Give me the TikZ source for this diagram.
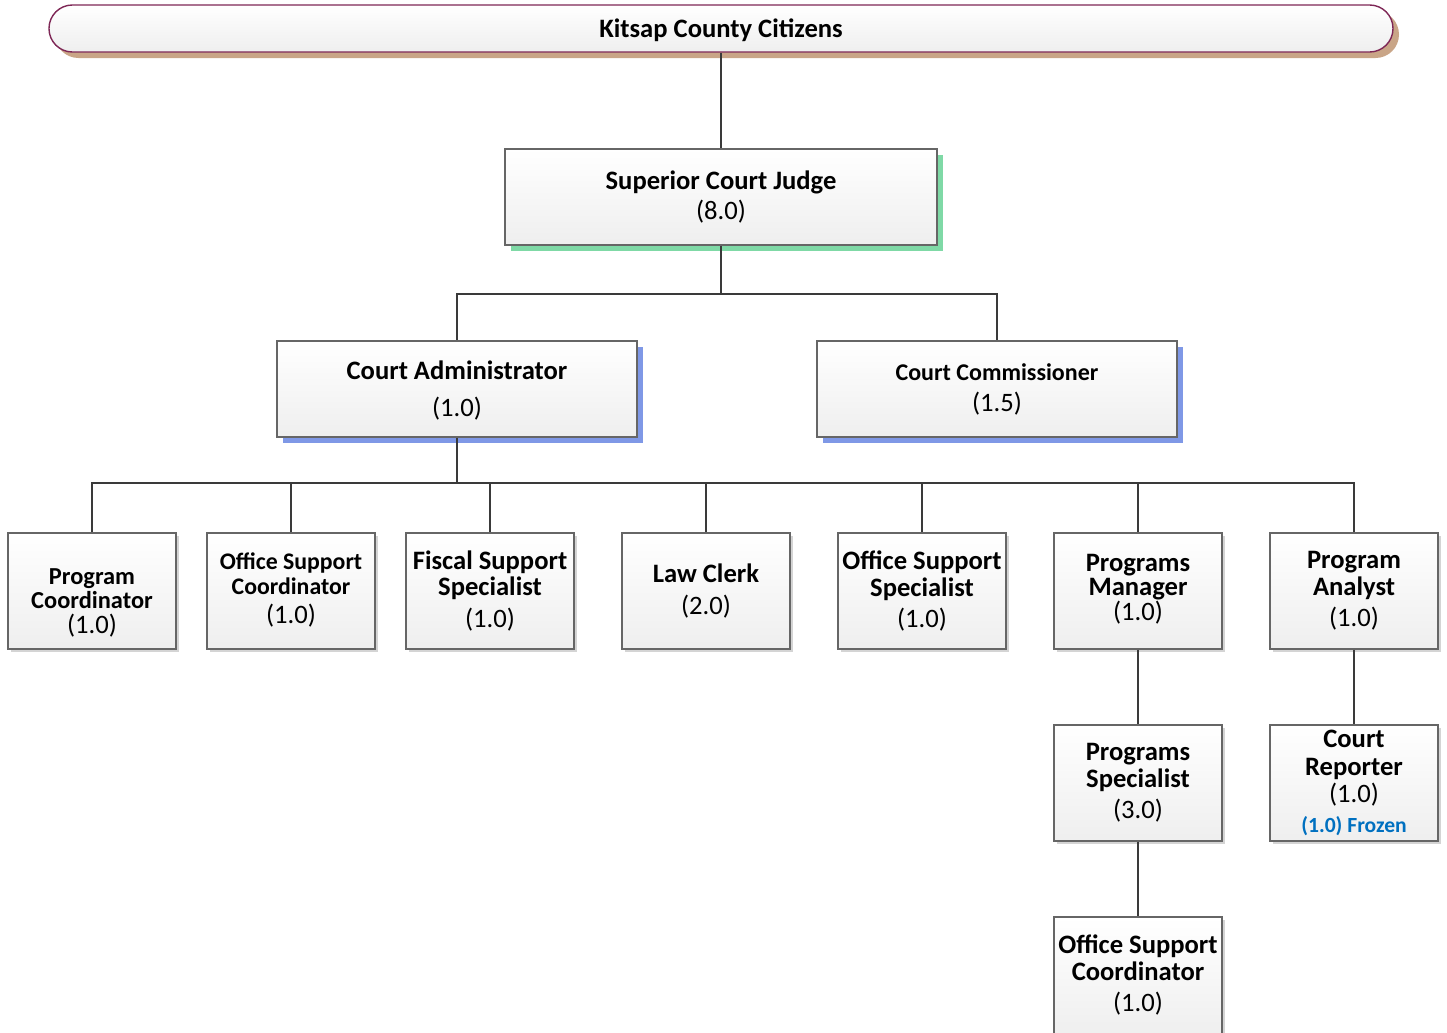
\documentclass[tikz,border=0pt]{standalone}
\usepackage{fontspec}
\setmainfont{Carlito}
\usetikzlibrary{shadows}
\definecolor{lineC}{HTML}{3A3A3A}
\definecolor{boxB}{HTML}{666666}
\definecolor{topB}{HTML}{7E2756}
\definecolor{shTan}{HTML}{C9A587}
\definecolor{shGreen}{HTML}{7FD9A6}
\definecolor{shBlue}{HTML}{7F98E6}
\definecolor{shGray}{HTML}{D4D4D4}
\definecolor{frozen}{HTML}{0070C0}
\newcommand\fsA{\fontsize{13.3}{13.3}\selectfont}
\newcommand\fsB{\fontsize{12.2}{12.2}\selectfont}
\newcommand\fsC{\fontsize{11.9}{12.2}\selectfont}
\newcommand\fsD{\fontsize{13.3}{10.7}\selectfont}
\tikzset{
  x=0.5pt, y=-0.5pt,
  base/.style={draw=boxB, line width=0.75pt, top color=white, bottom color=gray!13, inner sep=0pt},
  bigbox/.style={base, minimum width=216pt, minimum height=48pt},
  midbox/.style={base, minimum width=180pt, minimum height=48pt},
  smallbox/.style={base, minimum width=84pt, minimum height=58pt,
     drop shadow={shadow xshift=1.6pt, shadow yshift=-1.6pt, fill=shGray, opacity=1}},
  txt/.style={align=center, inner sep=0pt, font=\fsA},
  conn/.style={draw=lineC, line width=1.05pt},
}
\begin{document}
\begin{tikzpicture}
\useasboundingbox (0,0) rectangle (1447,1033);
% top
\node[draw=topB, line width=0.7pt, top color=white, bottom color=gray!13, rounded corners=11.7pt,
  minimum width=672pt, minimum height=23.5pt,
  drop shadow={shadow xshift=3pt, shadow yshift=-3pt, fill=shTan, opacity=1}] (top) at (721,28.5) {};
\node[txt] (ttop) at (721,30) {\textbf{Kitsap County Citizens}};
% judge
\node[bigbox, drop shadow={shadow xshift=3pt, shadow yshift=-3pt, fill=shGreen, opacity=1}] (judge) at (721,197) {};
\node[txt] (tjudge) at (721,197) {\textbf{Superior Court Judge}\\[2pt](8.0)};
% second level
\node[midbox, drop shadow={shadow xshift=3pt, shadow yshift=-3pt, fill=shBlue, opacity=1}] (ca) at (457,389) {};
\node[txt] (tca) at (457,390.5) {\textbf{Court Administrator}\\[5.5pt](1.0)};
\node[midbox, drop shadow={shadow xshift=3pt, shadow yshift=-3pt, fill=shBlue, opacity=1}] (cc) at (997,389) {};
\node[txt] (tcc) at (997,389.5) {\fontsize{12}{13.3}\selectfont\textbf{Court Commissioner}\\[2.5pt]\fsA(1.5)};
% third level
\node[smallbox] (pc) at (92,591) {};
\node[txt, font=\fsB] (tpc) at (92,603) {\textbf{Program}\\\textbf{Coordinator}\\[0.5pt]\fsA(1.0)};
\node[smallbox] (osc) at (291,591) {};
\node[txt, font=\fsC] (tosc) at (291,590) {\textbf{Office Support}\\\textbf{Coordinator}\\[2.5pt]\fsA(1.0)};
\node[smallbox] (fss) at (490,591) {};
\node[txt] (tfss) at (490,591) {\textbf{Fiscal Support}\\\textbf{Specialist}\\[2.5pt](1.0)};
\node[smallbox] (lc) at (706,591) {};
\node[txt] (tlc) at (706,591) {\textbf{Law Clerk}\\[2.5pt](2.0)};
\node[smallbox] (oss) at (922,591) {};
\node[txt] (toss) at (922,591) {\textbf{Office Support}\\\textbf{Specialist}\\[2.5pt](1.0)};
\node[smallbox] (pm) at (1138,591) {};
\node[txt, font=\fsD] (tpm) at (1138,589.5) {\textbf{Programs}\\\textbf{Manager}\\[-0.5pt](1.0)};
\node[smallbox] (pa) at (1354,591) {};
\node[txt] (tpa) at (1354,591) {\textbf{Program}\\\textbf{Analyst}\\[2.5pt](1.0)};
% fourth level
\node[smallbox] (ps) at (1138,783) {};
\node[txt] (tps) at (1138,783) {\textbf{Programs}\\\textbf{Specialist}\\[2.5pt](3.0)};
\node[smallbox] (cr) at (1354,783) {};
\node[txt] (tcr) at (1354,783) {\textbf{Court}\\[0.5pt]\textbf{Reporter}\\[0.5pt](1.0)\\[1.5pt]\fontsize{10.8}{11}\selectfont\textcolor{frozen}{\textbf{(1.0) Frozen}}};
% fifth level
\node[base, minimum width=84pt, minimum height=60pt,
  drop shadow={shadow xshift=1.6pt, shadow yshift=-1.6pt, fill=shGray, opacity=1}] (osc2) at (1138,977) {};
\node[txt] (tosc2) at (1138,975) {\textbf{Office Support}\\\textbf{Coordinator}\\[2.5pt](1.0)};
% connectors
\coordinate (bus1) at (721,294);
\coordinate (bus2) at (457,483);
\draw[conn] (top.south) -- (judge.north);
\draw[conn] (judge.south) -- (bus1);
\draw[conn] (bus1) -| (ca.north);
\draw[conn] (bus1) -| (cc.north);
\draw[conn, line width=1.4pt] (ca.south) -- (bus2);
\foreach \n in {pc,osc,fss,lc,oss,pm,pa} {\draw[conn] (bus2) -| (\n.north);}
\draw[conn] (pm.south) -- (ps.north);
\draw[conn] (ps.south) -- (osc2.north);
\draw[conn] (pa.south) -- (cr.north);
\end{tikzpicture}
\end{document}
